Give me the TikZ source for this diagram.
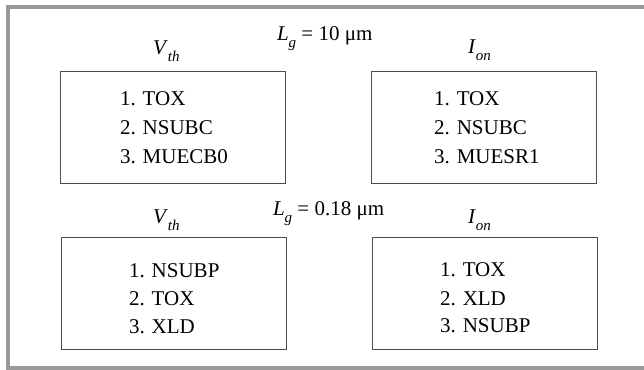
\documentclass[tikz,border=0pt]{standalone}
\usepackage{fontspec}
\setmainfont{Liberation Serif}
% italic symbol with a lowered italic subscript
\newcommand{\symsub}[2]{\textit{#1}\raisebox{-7pt}{\fontsize{15}{15}\selectfont\textit{#2}}}
\begin{document}
\begin{tikzpicture}[x=1pt,y=-1pt,
  every node/.style={inner sep=0pt,outer sep=0pt},
  frameline/.style={draw=black!40,line width=4pt},
  listbox/.style={draw=black!70,line width=0.9pt,minimum width=225pt,minimum height=112pt},
  entry/.style={anchor=base west,font=\fontsize{21}{25}\selectfont},
  heading/.style={anchor=base west,font=\fontsize{21}{25}\selectfont}]
\useasboundingbox (0,0) rectangle (644,369);
\clip (0,0) rectangle (644,369);
% outer frame, its right side runs off the page
\draw[frameline] (7.5,7) rectangle (660,367.5);

% channel length headings
\node[heading] (lg1) at (277,41) {\symsub{L}{g} = 10 μm};
\node[heading] (lg2) at (273,215) {\symsub{L}{g} = 0.18 μm};

% parameter labels
\node[heading] (vth1) at (153,54) {\symsub{V}{th}};
\node[heading] (ion1) at (468,53) {\symsub{I}{on}};
\node[heading] (vth2) at (153,223) {\symsub{V}{th}};
\node[heading] (ion2) at (468,223) {\symsub{I}{on}};

% ranking boxes
\node[listbox] (boxA) at (173,127) {};
\node[listbox] (boxB) at (483.5,127) {};
\node[listbox] (boxC) at (173.5,293) {};
\node[listbox] (boxD) at (484.5,293) {};

% rankings, L_g = 10 um
\node[entry] (a1) at (120,105) {1. TOX};
\node[entry] (a2) at (120,134) {2. NSUBC};
\node[entry] (a3) at (120,163) {3. MUECB0};
\node[entry] (b1) at (434,105) {1. TOX};
\node[entry] (b2) at (434,134) {2. NSUBC};
\node[entry] (b3) at (434,163) {3. MUESR1};

% rankings, L_g = 0.18 um
\node[entry] (c1) at (129,277) {1. NSUBP};
\node[entry] (c2) at (129,305) {2. TOX};
\node[entry] (c3) at (129,333) {3. XLD};
\node[entry] (d1) at (440,276) {1. TOX};
\node[entry] (d2) at (440,305) {2. XLD};
\node[entry] (d3) at (440,332) {3. NSUBP};
\end{tikzpicture}
\end{document}
